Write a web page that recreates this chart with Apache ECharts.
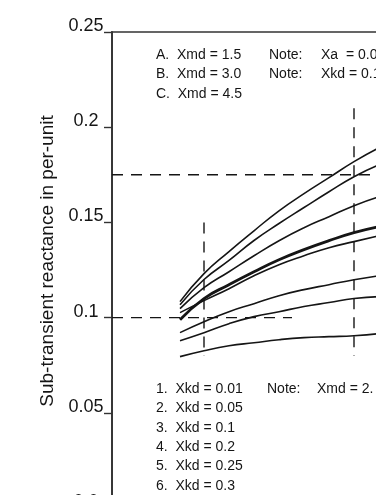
<!DOCTYPE html>
<html>
<head>
<meta charset="utf-8">
<script src="https://cdn.jsdelivr.net/npm/echarts@6/dist/echarts.min.js"></script>
<style>
  html, body { margin: 0; padding: 0; background: #fff; overflow: hidden; }
  #chart { width: 600px; height: 560px; }
</style>
</head>
<body>
<div id="chart"></div>
<script>
const xVals = [1.26, 1.5, 1.75, 2.0, 2.25, 2.5, 2.75, 3.0, 3.25];

// sub-transient reactance curves, top to bottom
const curve1 = [0.1084, 0.1231, 0.1347, 0.1456, 0.1561, 0.1651, 0.1735, 0.1819, 0.1892];
const curve2 = [0.1068, 0.1200, 0.1300, 0.1405, 0.1494, 0.1578, 0.1661, 0.1740, 0.1803];
const curve3 = [0.1047, 0.1157, 0.1241, 0.1325, 0.1404, 0.1472, 0.1530, 0.1588, 0.1635];
const curveThick = [0.0989, 0.1100, 0.1173, 0.1241, 0.1304, 0.1357, 0.1404, 0.1446, 0.1478];
const curve5 = [0.1026, 0.1089, 0.1152, 0.1220, 0.1278, 0.1325, 0.1367, 0.1399, 0.1430];
const curve6 = [0.0921, 0.0978, 0.1031, 0.1073, 0.1115, 0.1147, 0.1173, 0.1199, 0.1220];
const curve7 = [0.0879, 0.0921, 0.0968, 0.1005, 0.1031, 0.1058, 0.1079, 0.1100, 0.1110];
const curve8 = [0.0795, 0.0826, 0.0852, 0.0868, 0.0884, 0.0895, 0.0900, 0.0905, 0.0916];

// dashed guide lines
const guideH175 = [[0.58, 0.175], [5.0, 0.175]];
const guideH100 = [[0.58, 0.1], [2.38, 0.1]];
const guideV15 = [[1.5, 0.15], [1.5, 0.08]];
const guideV30 = [[3.0, 0.21], [3.0, 0.08]];

const yTickLabels = ['0.0', '0.05', '0.1', '0.15', '0.2', '0.25'];
const yName = 'Sub-transient reactance in per-unit';

const notesXmd = ['A.  Xmd = 1.5', 'B.  Xmd = 3.0', 'C.  Xmd = 4.5'];
const notesTopNote = ['Note:', 'Note:'];
const notesTopVal = ['Xa  = 0.0', 'Xkd = 0.1'];
const notesXkd = ['1.  Xkd = 0.01', '2.  Xkd = 0.05', '3.  Xkd = 0.1', '4.  Xkd = 0.2', '5.  Xkd = 0.25', '6.  Xkd = 0.3'];
const notesBottom = ['Note:', 'Xmd = 2.'];

const FONT = '"Liberation Sans", Arial, Helvetica, sans-serif';
const INK = '#151515';

function pairs(ys) {
  return xVals.map((x, i) => [x, ys[i]]);
}

function curve(ys, width) {
  return {
    type: 'line',
    data: pairs(ys),
    smooth: 0.5,
    symbol: 'none',
    silent: true,
    lineStyle: { color: INK, width: width || 1.6 },
  };
}

function guide(pts) {
  return {
    type: 'line',
    data: pts,
    symbol: 'none',
    silent: true,
    lineStyle: { color: INK, width: 1.4, type: [11, 8] },
  };
}

function block(x, y, lines) {
  return {
    type: 'text',
    x: x,
    y: y,
    silent: true,
    style: {
      text: lines.join('\n'),
      font: '14px ' + FONT,
      lineHeight: 19.3,
      fill: INK,
      verticalAlign: 'top',
    },
  };
}

const chart = echarts.init(document.getElementById('chart'));
chart.setOption({
  backgroundColor: '#fff',
  animation: false,
  grid: {
    left: 112, top: 32, width: 442, height: 476,
    show: true, borderColor: '#333', borderWidth: 1.6, backgroundColor: 'transparent',
  },
  xAxis: {
    type: 'value', min: 0.58, max: 5.0, show: false,
  },
  yAxis: {
    type: 'value', min: 0, max: 0.25, interval: 0.05,
    name: yName,
    nameLocation: 'middle',
    nameGap: 50,
    nameTextStyle: { fontFamily: FONT, fontSize: 19, color: INK, padding: [0, 0, 0, 18] },
    axisLine: { show: true, lineStyle: { color: '#333', width: 1.8 } },
    axisTick: { show: true, inside: false, length: 8, lineStyle: { color: '#333', width: 1.4 } },
    splitLine: { show: false },
    axisLabel: {
      fontFamily: FONT, fontSize: 18, color: INK,
      align: 'center', verticalAlign: 'bottom', lineHeight: 12, margin: 26,
      formatter: (v, i) => yTickLabels[i],
    },
  },
  series: [
    guide(guideH175),
    guide(guideH100),
    guide(guideV15),
    guide(guideV30),
    curve(curve1),
    curve(curve2),
    curve(curve3),
    curve(curveThick, 2.8),
    curve(curve5),
    curve(curve6),
    curve(curve7),
    curve(curve8),
  ],
  graphic: [
    block(156, 45.5, notesXmd),
    block(269, 45.5, notesTopNote),
    block(321, 45.5, notesTopVal),
    block(156, 379.5, notesXkd),
    block(267, 379.5, [notesBottom[0]]),
    block(317, 379.5, [notesBottom[1]]),
  ],
});
</script>
</body>
</html>
